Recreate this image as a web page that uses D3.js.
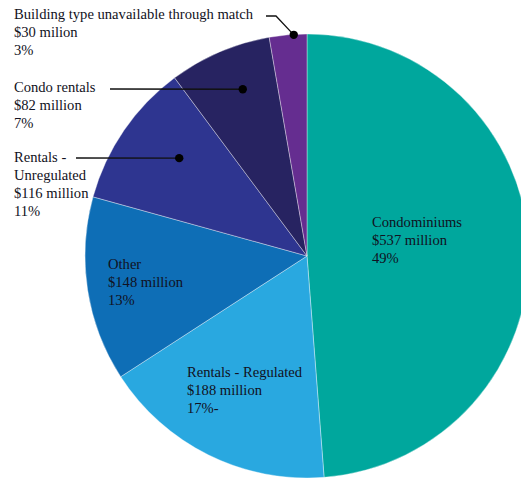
<!DOCTYPE html>
<html>
<head>
<meta charset="utf-8">
<script src="https://cdn.jsdelivr.net/npm/d3@7"></script>
<style>
  html, body { margin: 0; padding: 0; background: #fff; }
  svg text { font-family: "Liberation Serif", "DejaVu Serif", serif; font-size: 14.6px; fill: #111122; }
</style>
</head>
<body>
<svg id="chart" width="521" height="481"></svg>
<script>
// Spending by building type, clockwise from 12 o'clock
const categories = [
  "Condominiums",
  "Rentals - Regulated",
  "Other",
  "Rentals - Unregulated",
  "Condo rentals",
  "Building type unavailable through match"
];
const values = [537, 188, 148, 116, 82, 30];
const amountLabels = ["$537 million", "$188 million", "$148 million", "$116 million", "$82 million", "$30 milion"];
const percentLabels = ["49%", "17%-", "13%", "11%", "7%", "3%"];
const colors = ["#00a79d", "#29a8e0", "#0e6eb6", "#2e3590", "#272361", "#652d90"];

const svg = d3.select("#chart");
const cx = 307, cy = 256, radius = 222;

const pie = d3.pie().sort(null).value(d => d.value);
const arc = d3.arc().innerRadius(0).outerRadius(radius);

const data = categories.map((c, i) => ({ name: c, value: values[i], color: colors[i], i }));
const arcs = pie(data);

const g = svg.append("g").attr("transform", `translate(${cx},${cy})`);
g.selectAll("path")
  .data(arcs)
  .join("path")
  .attr("d", arc)
  .attr("fill", d => d.data.color)
  .attr("stroke", "rgba(255,255,255,0.45)")
  .attr("stroke-width", 0.8);

// Label layout: text anchor (x, first baseline) and optional leader to a dot
// placed inside the slice at a fraction of its angle span and radius.
const lineGap = 18;
const layout = [
  { x: 372, y: 227 },
  { x: 187, y: 377 },
  { x: 108, y: 269 },
  { x: 14, y: 162, split: ["Rentals -", "Unregulated"], leader: { from: [76, 158], t: 0.58, r: 0.725 } },
  { x: 14, y: 92, leader: { from: [110, 89], t: 0.58, r: 0.805 } },
  { x: 14, y: 19, leader: { from: [266, 16], bend: [276, 16], t: 0.65, r: 0.998 } }
];

const ann = svg.append("g");
arcs.forEach((a, i) => {
  const L = layout[i];
  const lines = (L.split || [a.data.name]).concat([amountLabels[i], percentLabels[i]]);
  const t = ann.append("text").attr("x", L.x).attr("y", L.y);
  lines.forEach((s, k) => {
    t.append("tspan").attr("x", L.x).attr("y", L.y + k * lineGap).text(s);
  });
  if (L.leader) {
    const ang = a.startAngle + (a.endAngle - a.startAngle) * L.leader.t;
    const rr = radius * L.leader.r;
    const dx = cx + rr * Math.sin(ang), dy = cy - rr * Math.cos(ang);
    const pts = [L.leader.from];
    if (L.leader.bend) pts.push(L.leader.bend);
    pts.push([dx, dy]);
    ann.append("path")
      .attr("d", d3.line()(pts))
      .attr("fill", "none")
      .attr("stroke", "#111")
      .attr("stroke-width", 1.3);
    ann.append("circle").attr("cx", dx).attr("cy", dy).attr("r", 4.2).attr("fill", "#000");
  }
});
</script>
</body>
</html>
